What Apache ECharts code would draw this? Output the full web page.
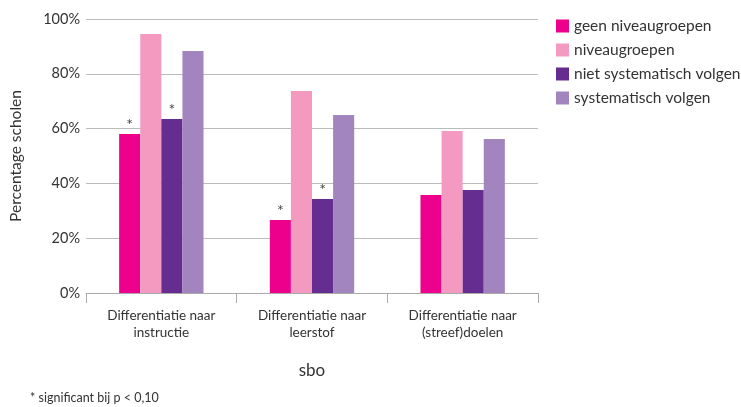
<!DOCTYPE html>
<html>
<head>
<meta charset="utf-8">
<script src="https://cdn.jsdelivr.net/npm/echarts@6/dist/echarts.min.js"></script>
<style>html,body{margin:0;padding:0;background:#fff}#c{width:741px;height:407px}</style>
</head>
<body>
<div id="c"></div>
<script>
var categories = ['Differentiatie naar\ninstructie', 'Differentiatie naar\nleerstof', 'Differentiatie naar\n(streef)doelen'];
var seriesNames = ['geen niveaugroepen', 'niveaugroepen', 'niet systematisch volgen', 'systematisch volgen'];
var geenNiveau = [58.0, 26.6, 35.8];
var niveau = [94.5, 73.7, 59.1];
var nietSyst = [63.5, 34.3, 37.6];
var syst = [88.3, 65.0, 56.2];
var significant = [
  [true, true, false],
  [false, false, false],
  [true, true, false],
  [false, false, false]
];
var yTicks = [0, 20, 40, 60, 80, 100];
var colors = ['#EC008C', '#F49AC1', '#662D91', '#A285BE'];
var font = 'Lato';
var values = [geenNiveau, niveau, nietSyst, syst];

var chart = echarts.init(document.getElementById('c'));
chart.setOption({
  animation: false,
  color: colors,
  textStyle: {fontFamily: font},
  grid: {left: 86, right: 203, top: 19, bottom: 114},
  legend: {
    orient: 'vertical', left: 551, top: 12, itemWidth: 13, itemHeight: 13, itemGap: 6,
    icon: 'rect',
    textStyle: {fontFamily: font, fontSize: 15.5, color: '#333', lineHeight: 18},
    data: seriesNames
  },
  xAxis: {
    type: 'category', data: categories,
    name: 'sbo', nameLocation: 'middle', nameGap: 69,
    nameTextStyle: {fontFamily: font, fontSize: 17, color: '#333'},
    axisLine: {lineStyle: {color: '#aaa'}},
    axisTick: {show: true, length: 10, lineStyle: {color: '#aaa'}},
    axisLabel: {fontFamily: font, fontSize: 13.5, color: '#333', lineHeight: 17, margin: 14}
  },
  yAxis: {
    type: 'value', min: 0, max: 100, interval: 20,
    name: 'Percentage scholen', nameLocation: 'middle', nameGap: 62, nameRotate: 90,
    nameTextStyle: {fontFamily: font, fontSize: 15.5, color: '#333'},
    axisLine: {show: false}, axisTick: {show: false},
    axisLabel: {fontFamily: font, fontSize: 14.5, color: '#333', margin: 6, formatter: function(v){return v + '%';}},
    splitLine: {lineStyle: {color: '#bbb'}}
  },
  series: seriesNames.map(function(n, i) {
    return {
      name: n, type: 'bar', barGap: 0, barCategoryGap: '44%',
      data: values[i].map(function(v, j) {
        return {value: v, label: {show: significant[i][j]}};
      }),
      label: {position: 'top', formatter: '*', color: '#444', fontSize: 16, distance: 1},
      emphasis: {disabled: true}
    };
  }),
  graphic: [{
    type: 'text', left: 30, top: 391,
    style: {text: '* significant bij p < 0,10', font: '12.5px ' + font, fill: '#333'}
  }]
});
</script>
</body>
</html>
